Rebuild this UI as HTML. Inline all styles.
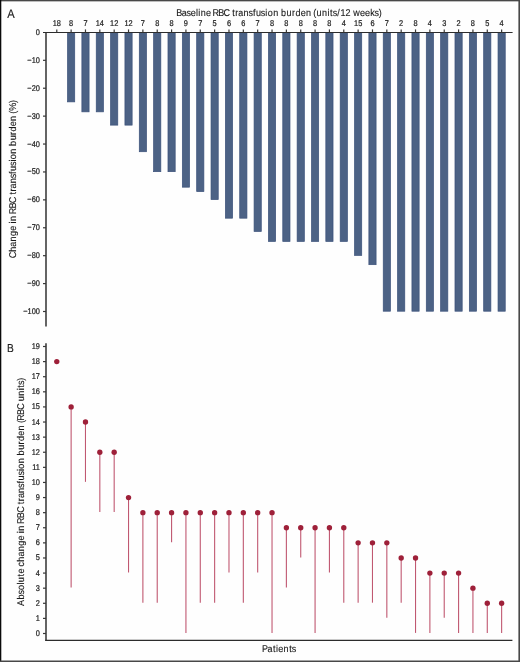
<!DOCTYPE html>
<html lang="en"><head><meta charset="utf-8"><title>RBC transfusion burden</title>
<style>html,body{margin:0;padding:0;background:#fff}body{width:520px;height:662px;overflow:hidden}svg{display:block}</style>
</head><body>
<svg width="520" height="662" viewBox="0 0 520 662" font-family="Liberation Sans, sans-serif" fill="#1a1a1a" text-rendering="geometricPrecision">
<rect width="520" height="662" fill="#fefefe"/>
<rect x="67.53" y="32.40" width="7.2" height="69.47" fill="#4c6285" stroke="#3b517a" stroke-width="0.7"/>
<rect x="81.88" y="32.40" width="7.2" height="79.44" fill="#4c6285" stroke="#3b517a" stroke-width="0.7"/>
<rect x="96.23" y="32.40" width="7.2" height="79.44" fill="#4c6285" stroke="#3b517a" stroke-width="0.7"/>
<rect x="110.58" y="32.40" width="7.2" height="92.72" fill="#4c6285" stroke="#3b517a" stroke-width="0.7"/>
<rect x="124.93" y="32.40" width="7.2" height="92.72" fill="#4c6285" stroke="#3b517a" stroke-width="0.7"/>
<rect x="139.28" y="32.40" width="7.2" height="119.32" fill="#4c6285" stroke="#3b517a" stroke-width="0.7"/>
<rect x="153.63" y="32.40" width="7.2" height="139.25" fill="#4c6285" stroke="#3b517a" stroke-width="0.7"/>
<rect x="167.98" y="32.40" width="7.2" height="139.25" fill="#4c6285" stroke="#3b517a" stroke-width="0.7"/>
<rect x="182.33" y="32.40" width="7.2" height="154.77" fill="#4c6285" stroke="#3b517a" stroke-width="0.7"/>
<rect x="196.68" y="32.40" width="7.2" height="159.18" fill="#4c6285" stroke="#3b517a" stroke-width="0.7"/>
<rect x="211.03" y="32.40" width="7.2" height="167.16" fill="#4c6285" stroke="#3b517a" stroke-width="0.7"/>
<rect x="225.38" y="32.40" width="7.2" height="185.78" fill="#4c6285" stroke="#3b517a" stroke-width="0.7"/>
<rect x="239.73" y="32.40" width="7.2" height="185.78" fill="#4c6285" stroke="#3b517a" stroke-width="0.7"/>
<rect x="254.08" y="32.40" width="7.2" height="199.06" fill="#4c6285" stroke="#3b517a" stroke-width="0.7"/>
<rect x="268.43" y="32.40" width="7.2" height="209.02" fill="#4c6285" stroke="#3b517a" stroke-width="0.7"/>
<rect x="282.78" y="32.40" width="7.2" height="209.02" fill="#4c6285" stroke="#3b517a" stroke-width="0.7"/>
<rect x="297.13" y="32.40" width="7.2" height="209.02" fill="#4c6285" stroke="#3b517a" stroke-width="0.7"/>
<rect x="311.48" y="32.40" width="7.2" height="209.02" fill="#4c6285" stroke="#3b517a" stroke-width="0.7"/>
<rect x="325.83" y="32.40" width="7.2" height="209.02" fill="#4c6285" stroke="#3b517a" stroke-width="0.7"/>
<rect x="340.18" y="32.40" width="7.2" height="209.02" fill="#4c6285" stroke="#3b517a" stroke-width="0.7"/>
<rect x="354.53" y="32.40" width="7.2" height="222.98" fill="#4c6285" stroke="#3b517a" stroke-width="0.7"/>
<rect x="368.88" y="32.40" width="7.2" height="232.27" fill="#4c6285" stroke="#3b517a" stroke-width="0.7"/>
<rect x="383.23" y="32.40" width="7.2" height="278.80" fill="#4c6285" stroke="#3b517a" stroke-width="0.7"/>
<rect x="397.58" y="32.40" width="7.2" height="278.80" fill="#4c6285" stroke="#3b517a" stroke-width="0.7"/>
<rect x="411.93" y="32.40" width="7.2" height="278.80" fill="#4c6285" stroke="#3b517a" stroke-width="0.7"/>
<rect x="426.28" y="32.40" width="7.2" height="278.80" fill="#4c6285" stroke="#3b517a" stroke-width="0.7"/>
<rect x="440.63" y="32.40" width="7.2" height="278.80" fill="#4c6285" stroke="#3b517a" stroke-width="0.7"/>
<rect x="454.98" y="32.40" width="7.2" height="278.80" fill="#4c6285" stroke="#3b517a" stroke-width="0.7"/>
<rect x="469.33" y="32.40" width="7.2" height="278.80" fill="#4c6285" stroke="#3b517a" stroke-width="0.7"/>
<rect x="483.68" y="32.40" width="7.2" height="278.80" fill="#4c6285" stroke="#3b517a" stroke-width="0.7"/>
<rect x="498.03" y="32.40" width="7.2" height="278.80" fill="#4c6285" stroke="#3b517a" stroke-width="0.7"/>
<g stroke="#383838" stroke-width="1.3" fill="none">
<path d="M46.0 31.9V326.4" stroke-width="1.55"/>
<path d="M43 32.449999999999996H512.6" stroke-width="1.15" stroke="#2c2c2c"/>
<path d="M56.78 29.4V32.4" stroke-width="1.2"/>
<path d="M71.13 29.4V32.4" stroke-width="1.2"/>
<path d="M85.48 29.4V32.4" stroke-width="1.2"/>
<path d="M99.83 29.4V32.4" stroke-width="1.2"/>
<path d="M114.18 29.4V32.4" stroke-width="1.2"/>
<path d="M128.53 29.4V32.4" stroke-width="1.2"/>
<path d="M142.88 29.4V32.4" stroke-width="1.2"/>
<path d="M157.23 29.4V32.4" stroke-width="1.2"/>
<path d="M171.58 29.4V32.4" stroke-width="1.2"/>
<path d="M185.93 29.4V32.4" stroke-width="1.2"/>
<path d="M200.28 29.4V32.4" stroke-width="1.2"/>
<path d="M214.63 29.4V32.4" stroke-width="1.2"/>
<path d="M228.98 29.4V32.4" stroke-width="1.2"/>
<path d="M243.33 29.4V32.4" stroke-width="1.2"/>
<path d="M257.68 29.4V32.4" stroke-width="1.2"/>
<path d="M272.03 29.4V32.4" stroke-width="1.2"/>
<path d="M286.38 29.4V32.4" stroke-width="1.2"/>
<path d="M300.73 29.4V32.4" stroke-width="1.2"/>
<path d="M315.08 29.4V32.4" stroke-width="1.2"/>
<path d="M329.43 29.4V32.4" stroke-width="1.2"/>
<path d="M343.78 29.4V32.4" stroke-width="1.2"/>
<path d="M358.13 29.4V32.4" stroke-width="1.2"/>
<path d="M372.48 29.4V32.4" stroke-width="1.2"/>
<path d="M386.83 29.4V32.4" stroke-width="1.2"/>
<path d="M401.18 29.4V32.4" stroke-width="1.2"/>
<path d="M415.53 29.4V32.4" stroke-width="1.2"/>
<path d="M429.88 29.4V32.4" stroke-width="1.2"/>
<path d="M444.23 29.4V32.4" stroke-width="1.2"/>
<path d="M458.58 29.4V32.4" stroke-width="1.2"/>
<path d="M472.93 29.4V32.4" stroke-width="1.2"/>
<path d="M487.28 29.4V32.4" stroke-width="1.2"/>
<path d="M501.63 29.4V32.4" stroke-width="1.2"/>
<path d="M43 60.31H46.0" stroke-width="1.2"/>
<path d="M43 88.22H46.0" stroke-width="1.2"/>
<path d="M43 116.13H46.0" stroke-width="1.2"/>
<path d="M43 144.04H46.0" stroke-width="1.2"/>
<path d="M43 171.95H46.0" stroke-width="1.2"/>
<path d="M43 199.86H46.0" stroke-width="1.2"/>
<path d="M43 227.77H46.0" stroke-width="1.2"/>
<path d="M43 255.68H46.0" stroke-width="1.2"/>
<path d="M43 283.59H46.0" stroke-width="1.2"/>
<path d="M43 311.50H46.0" stroke-width="1.2"/>
<path d="M46.0 343.2V640.9" stroke-width="1.55"/>
<path d="M45.3 640.4H512.4" stroke-width="1.15" stroke="#2c2c2c"/>
<path d="M43 633.50H46.0" stroke-width="1.2"/>
<path d="M43 618.39H46.0" stroke-width="1.2"/>
<path d="M43 603.29H46.0" stroke-width="1.2"/>
<path d="M43 588.18H46.0" stroke-width="1.2"/>
<path d="M43 573.08H46.0" stroke-width="1.2"/>
<path d="M43 557.98H46.0" stroke-width="1.2"/>
<path d="M43 542.87H46.0" stroke-width="1.2"/>
<path d="M43 527.76H46.0" stroke-width="1.2"/>
<path d="M43 512.66H46.0" stroke-width="1.2"/>
<path d="M43 497.56H46.0" stroke-width="1.2"/>
<path d="M43 482.45H46.0" stroke-width="1.2"/>
<path d="M43 467.35H46.0" stroke-width="1.2"/>
<path d="M43 452.24H46.0" stroke-width="1.2"/>
<path d="M43 437.13H46.0" stroke-width="1.2"/>
<path d="M43 422.03H46.0" stroke-width="1.2"/>
<path d="M43 406.92H46.0" stroke-width="1.2"/>
<path d="M43 391.82H46.0" stroke-width="1.2"/>
<path d="M43 376.71H46.0" stroke-width="1.2"/>
<path d="M43 361.61H46.0" stroke-width="1.2"/>
<path d="M43 346.50H46.0" stroke-width="1.2"/>
</g>
<circle cx="56.78" cy="361.61" r="2.68" fill="#9e2039"/>
<path d="M71.13 406.92V587.58" stroke="#c05871" stroke-width="1.1"/>
<circle cx="71.13" cy="406.92" r="2.68" fill="#9e2039"/>
<path d="M85.48 422.03V481.85" stroke="#c05871" stroke-width="1.1"/>
<circle cx="85.48" cy="422.03" r="2.68" fill="#9e2039"/>
<path d="M99.83 452.24V512.06" stroke="#c05871" stroke-width="1.1"/>
<circle cx="99.83" cy="452.24" r="2.68" fill="#9e2039"/>
<path d="M114.18 452.24V512.06" stroke="#c05871" stroke-width="1.1"/>
<circle cx="114.18" cy="452.24" r="2.68" fill="#9e2039"/>
<path d="M128.53 497.56V572.48" stroke="#c05871" stroke-width="1.1"/>
<circle cx="128.53" cy="497.56" r="2.68" fill="#9e2039"/>
<path d="M142.88 512.66V602.69" stroke="#c05871" stroke-width="1.1"/>
<circle cx="142.88" cy="512.66" r="2.68" fill="#9e2039"/>
<path d="M157.23 512.66V602.69" stroke="#c05871" stroke-width="1.1"/>
<circle cx="157.23" cy="512.66" r="2.68" fill="#9e2039"/>
<path d="M171.58 512.66V542.27" stroke="#c05871" stroke-width="1.1"/>
<circle cx="171.58" cy="512.66" r="2.68" fill="#9e2039"/>
<path d="M185.93 512.66V632.90" stroke="#c05871" stroke-width="1.1"/>
<circle cx="185.93" cy="512.66" r="2.68" fill="#9e2039"/>
<path d="M200.28 512.66V602.69" stroke="#c05871" stroke-width="1.1"/>
<circle cx="200.28" cy="512.66" r="2.68" fill="#9e2039"/>
<path d="M214.63 512.66V602.69" stroke="#c05871" stroke-width="1.1"/>
<circle cx="214.63" cy="512.66" r="2.68" fill="#9e2039"/>
<path d="M228.98 512.66V572.48" stroke="#c05871" stroke-width="1.1"/>
<circle cx="228.98" cy="512.66" r="2.68" fill="#9e2039"/>
<path d="M243.33 512.66V602.69" stroke="#c05871" stroke-width="1.1"/>
<circle cx="243.33" cy="512.66" r="2.68" fill="#9e2039"/>
<path d="M257.68 512.66V572.48" stroke="#c05871" stroke-width="1.1"/>
<circle cx="257.68" cy="512.66" r="2.68" fill="#9e2039"/>
<path d="M272.03 512.66V632.90" stroke="#c05871" stroke-width="1.1"/>
<circle cx="272.03" cy="512.66" r="2.68" fill="#9e2039"/>
<path d="M286.38 527.76V587.58" stroke="#c05871" stroke-width="1.1"/>
<circle cx="286.38" cy="527.76" r="2.68" fill="#9e2039"/>
<path d="M300.73 527.76V557.38" stroke="#c05871" stroke-width="1.1"/>
<circle cx="300.73" cy="527.76" r="2.68" fill="#9e2039"/>
<path d="M315.08 527.76V632.90" stroke="#c05871" stroke-width="1.1"/>
<circle cx="315.08" cy="527.76" r="2.68" fill="#9e2039"/>
<path d="M329.43 527.76V572.48" stroke="#c05871" stroke-width="1.1"/>
<circle cx="329.43" cy="527.76" r="2.68" fill="#9e2039"/>
<path d="M343.78 527.76V602.69" stroke="#c05871" stroke-width="1.1"/>
<circle cx="343.78" cy="527.76" r="2.68" fill="#9e2039"/>
<path d="M358.13 542.87V602.69" stroke="#c05871" stroke-width="1.1"/>
<circle cx="358.13" cy="542.87" r="2.68" fill="#9e2039"/>
<path d="M372.48 542.87V602.69" stroke="#c05871" stroke-width="1.1"/>
<circle cx="372.48" cy="542.87" r="2.68" fill="#9e2039"/>
<path d="M386.83 542.87V617.79" stroke="#c05871" stroke-width="1.1"/>
<circle cx="386.83" cy="542.87" r="2.68" fill="#9e2039"/>
<path d="M401.18 557.98V602.69" stroke="#c05871" stroke-width="1.1"/>
<circle cx="401.18" cy="557.98" r="2.68" fill="#9e2039"/>
<path d="M415.53 557.98V632.90" stroke="#c05871" stroke-width="1.1"/>
<circle cx="415.53" cy="557.98" r="2.68" fill="#9e2039"/>
<path d="M429.88 573.08V632.90" stroke="#c05871" stroke-width="1.1"/>
<circle cx="429.88" cy="573.08" r="2.68" fill="#9e2039"/>
<path d="M444.23 573.08V617.79" stroke="#c05871" stroke-width="1.1"/>
<circle cx="444.23" cy="573.08" r="2.68" fill="#9e2039"/>
<path d="M458.58 573.08V632.90" stroke="#c05871" stroke-width="1.1"/>
<circle cx="458.58" cy="573.08" r="2.68" fill="#9e2039"/>
<path d="M472.93 588.18V632.90" stroke="#c05871" stroke-width="1.1"/>
<circle cx="472.93" cy="588.18" r="2.68" fill="#9e2039"/>
<path d="M487.28 603.29V632.90" stroke="#c05871" stroke-width="1.1"/>
<circle cx="487.28" cy="603.29" r="2.68" fill="#9e2039"/>
<path d="M501.63 603.29V632.90" stroke="#c05871" stroke-width="1.1"/>
<circle cx="501.63" cy="603.29" r="2.68" fill="#9e2039"/>
<g font-size="8.3" text-anchor="middle" stroke="#1a1a1a" stroke-width="0.22">
<text transform="translate(56.78 26.4) scale(0.89 1)">18</text>
<text transform="translate(71.13 26.4) scale(0.89 1)">8</text>
<text transform="translate(85.48 26.4) scale(0.89 1)">7</text>
<text transform="translate(99.83 26.4) scale(0.89 1)">14</text>
<text transform="translate(114.18 26.4) scale(0.89 1)">12</text>
<text transform="translate(128.53 26.4) scale(0.89 1)">12</text>
<text transform="translate(142.88 26.4) scale(0.89 1)">7</text>
<text transform="translate(157.23 26.4) scale(0.89 1)">8</text>
<text transform="translate(171.58 26.4) scale(0.89 1)">8</text>
<text transform="translate(185.93 26.4) scale(0.89 1)">9</text>
<text transform="translate(200.28 26.4) scale(0.89 1)">7</text>
<text transform="translate(214.63 26.4) scale(0.89 1)">5</text>
<text transform="translate(228.98 26.4) scale(0.89 1)">6</text>
<text transform="translate(243.33 26.4) scale(0.89 1)">6</text>
<text transform="translate(257.68 26.4) scale(0.89 1)">7</text>
<text transform="translate(272.03 26.4) scale(0.89 1)">8</text>
<text transform="translate(286.38 26.4) scale(0.89 1)">8</text>
<text transform="translate(300.73 26.4) scale(0.89 1)">8</text>
<text transform="translate(315.08 26.4) scale(0.89 1)">8</text>
<text transform="translate(329.43 26.4) scale(0.89 1)">8</text>
<text transform="translate(343.78 26.4) scale(0.89 1)">4</text>
<text transform="translate(358.13 26.4) scale(0.89 1)">15</text>
<text transform="translate(372.48 26.4) scale(0.89 1)">6</text>
<text transform="translate(386.83 26.4) scale(0.89 1)">7</text>
<text transform="translate(401.18 26.4) scale(0.89 1)">2</text>
<text transform="translate(415.53 26.4) scale(0.89 1)">8</text>
<text transform="translate(429.88 26.4) scale(0.89 1)">4</text>
<text transform="translate(444.23 26.4) scale(0.89 1)">3</text>
<text transform="translate(458.58 26.4) scale(0.89 1)">2</text>
<text transform="translate(472.93 26.4) scale(0.89 1)">8</text>
<text transform="translate(487.28 26.4) scale(0.89 1)">5</text>
<text transform="translate(501.63 26.4) scale(0.89 1)">4</text>
</g>
<g font-size="8.3" text-anchor="end" stroke="#1a1a1a" stroke-width="0.22">
<text transform="translate(39.9 34.90) scale(0.89 1)">0</text>
<text transform="translate(39.9 62.81) scale(0.89 1)">−10</text>
<text transform="translate(39.9 90.72) scale(0.89 1)">−20</text>
<text transform="translate(39.9 118.63) scale(0.89 1)">−30</text>
<text transform="translate(39.9 146.54) scale(0.89 1)">−40</text>
<text transform="translate(39.9 174.45) scale(0.89 1)">−50</text>
<text transform="translate(39.9 202.36) scale(0.89 1)">−60</text>
<text transform="translate(39.9 230.27) scale(0.89 1)">−70</text>
<text transform="translate(39.9 258.18) scale(0.89 1)">−80</text>
<text transform="translate(39.9 286.09) scale(0.89 1)">−90</text>
<text transform="translate(39.9 314.00) scale(0.89 1)">−100</text>
<text transform="translate(39.9 636.00) scale(0.89 1)">0</text>
<text transform="translate(39.9 620.89) scale(0.89 1)">1</text>
<text transform="translate(39.9 605.79) scale(0.89 1)">2</text>
<text transform="translate(39.9 590.68) scale(0.89 1)">3</text>
<text transform="translate(39.9 575.58) scale(0.89 1)">4</text>
<text transform="translate(39.9 560.48) scale(0.89 1)">5</text>
<text transform="translate(39.9 545.37) scale(0.89 1)">6</text>
<text transform="translate(39.9 530.26) scale(0.89 1)">7</text>
<text transform="translate(39.9 515.16) scale(0.89 1)">8</text>
<text transform="translate(39.9 500.06) scale(0.89 1)">9</text>
<text transform="translate(39.9 484.95) scale(0.89 1)">10</text>
<text transform="translate(39.9 469.85) scale(0.89 1)">11</text>
<text transform="translate(39.9 454.74) scale(0.89 1)">12</text>
<text transform="translate(39.9 439.63) scale(0.89 1)">13</text>
<text transform="translate(39.9 424.53) scale(0.89 1)">14</text>
<text transform="translate(39.9 409.42) scale(0.89 1)">15</text>
<text transform="translate(39.9 394.32) scale(0.89 1)">16</text>
<text transform="translate(39.9 379.21) scale(0.89 1)">17</text>
<text transform="translate(39.9 364.11) scale(0.89 1)">18</text>
<text transform="translate(39.9 349.00) scale(0.89 1)">19</text>
</g>
<text transform="translate(176.5 15.8) scale(0.92 1)" x="-0.32 5.79 10.83 15.43 21.07 23.63 26.28 32.02 37.26 39.16 45.30 51.12 57.61 60.56 63.86 67.17 72.80 78.25 83.07 86.29 91.71 96.50 99.12 105.12 110.65 113.53 119.62 125.48 129.23 135.02 140.76 146.29 148.72 152.16 158.17 164.10 166.89 169.76 174.86 178.15 183.73 189.03 192.00 199.54 204.99 210.53 215.23 219.75" y="0" font-size="9.8" stroke="#1a1a1a" stroke-width="0.12">Baseline RBC transfusion burden (units/12 weeks)</text>
<text transform="translate(262.4 651.5) scale(0.92 1)" x="-0.38 5.68 11.46 14.80 17.16 22.90 29.08 31.94" y="0" font-size="9.8" stroke="#1a1a1a" stroke-width="0.12">Patients</text>
<text transform="translate(15.5 257.9) rotate(-90) scale(0.92 1)" x="-0.40 6.57 12.19 17.81 23.84 29.59 34.81 37.50 40.14 45.66 47.55 53.67 59.48 65.95 68.89 72.18 75.47 81.09 86.52 91.34 94.54 99.95 104.72 107.33 113.31 118.83 121.70 127.77 133.62 137.35 143.12 148.85 154.37 156.78 159.89 168.44" y="0" font-size="9.8" stroke="#1a1a1a" stroke-width="0.12">Change in RBC transfusion burden (%)</text>
<text transform="translate(24.2 606.0) rotate(-90) scale(0.92 1)" x="0.06 7.02 12.54 17.40 23.30 25.94 32.10 35.26 40.50 43.00 48.17 53.81 59.44 65.50 71.26 76.50 79.19 81.85 87.38 89.28 95.42 101.24 107.73 110.68 113.98 117.29 122.92 128.37 133.19 136.41 141.83 146.62 149.24 155.24 160.77 163.65 169.74 175.60 179.35 185.14 190.88 196.41 198.84 201.40 207.54 213.36 219.85 222.63 228.64 234.56 237.36 240.22 244.74" y="0" font-size="9.8" stroke="#1a1a1a" stroke-width="0.12">Absolute change in RBC transfusion burden (RBC units)</text>
<text transform="translate(7.3 17.7) scale(0.9 1)" font-size="12.4" stroke="#1a1a1a" stroke-width="0.15">A</text>
<text transform="translate(7.0 351.9) scale(0.88 1)" font-size="11.6" stroke="#1a1a1a" stroke-width="0.15">B</text>
<rect x="0" y="0" width="520" height="1.35" fill="#484848"/>
<rect x="0" y="0" width="1.3" height="662" fill="#0a0a0a"/>
<rect x="518.4" y="0" width="1.6" height="662" fill="#484848"/>
<rect x="0" y="660.5" width="520" height="1.5" fill="#484848"/>
</svg>
</body></html>
